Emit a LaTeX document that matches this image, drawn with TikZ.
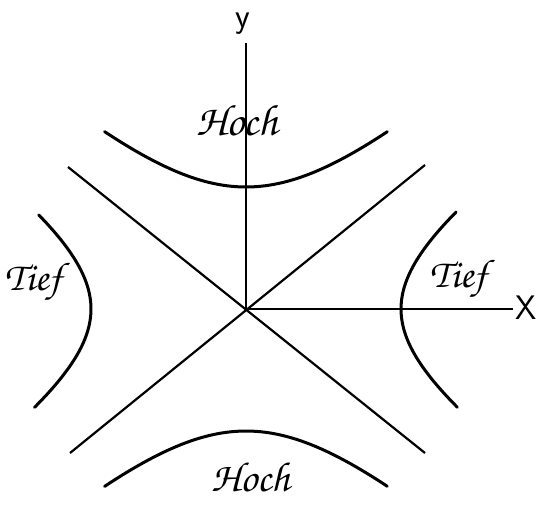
\documentclass[tikz,border=0pt]{standalone}
\usepackage[T1,TU]{fontenc}
\begin{document}
\begin{tikzpicture}[x=1pt,y=-1pt,
  axis/.style={line width=1.4pt},
  asym/.style={line width=2.2pt},
  hyp/.style={line width=3pt,line cap=round},
  hand/.style={inner sep=0pt,font=\fontencoding{T1}\fontfamily{pzc}\fontsize{#1}{#1}\selectfont},
  lab/.style={inner sep=0pt,font=\sffamily\fontsize{34}{34}\selectfont}]
\useasboundingbox (0,0) rectangle (537,504);
\coordinate (O) at (246,309);
\coordinate (ytop) at (246,43);
\coordinate (xend) at (513,309);
\coordinate (ul) at (68,167);
\coordinate (lr) at (425,453);
\coordinate (ur) at (425,165);
\coordinate (ll) at (70,453);
\draw[axis] (O) -- (ytop);
\draw[axis] (O) -- (xend);
\draw[asym] (ul) -- (lr);
\draw[asym] (ur) -- (ll);
% hyperbolas
\draw[hyp] plot[domain=-0.92:0.92,samples=60,smooth] ({246+134*sinh(\x)},{309-122*cosh(\x)});
\draw[hyp] plot[domain=-0.92:0.92,samples=60,smooth] ({246+134*sinh(\x)},{309+122*cosh(\x)});
\draw[hyp] plot[domain=-0.82:0.83,samples=60,smooth] ({246+155*cosh(\x)},{309+106*sinh(\x)});
\draw[hyp] plot[domain=-0.80:0.83,samples=60,smooth] ({246-155*cosh(\x)},{309+106*sinh(\x)});
% labels
\node[lab] (ylab) at (243,24) {y};
\node[lab] (xlab) at (526,308) {X};
\node[hand=44] (h1) at (237,120) {Hoch};
\node[hand=42] (h2) at (251,477) {Hoch};
\node[hand=40] (t1) at (33,282) {Tief};
\node[hand=40] (t2) at (458,279) {Tief};
\end{tikzpicture}
\end{document}
